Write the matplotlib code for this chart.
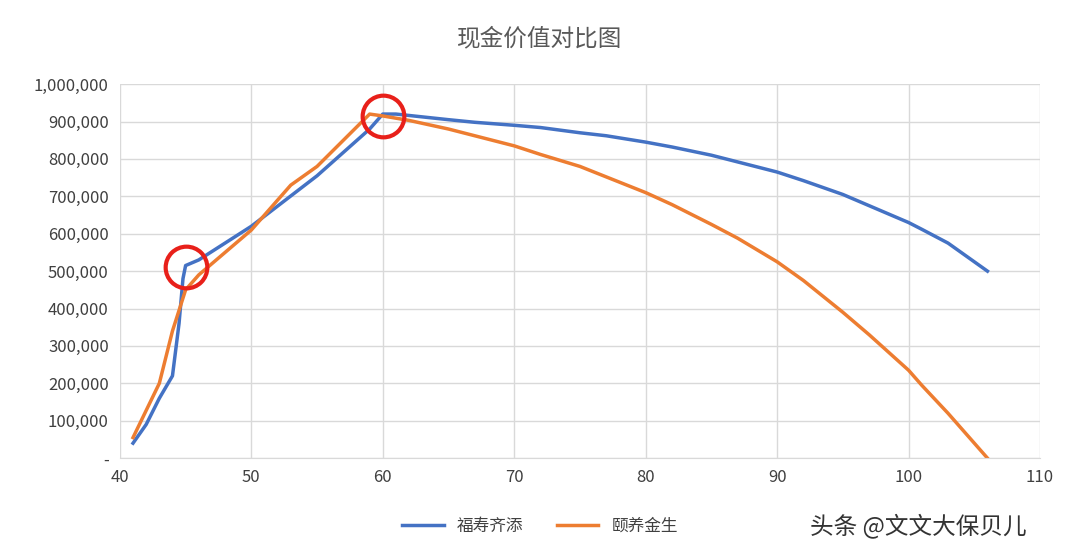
import matplotlib
matplotlib.use("Agg")
import matplotlib.pyplot as plt
from matplotlib.ticker import FuncFormatter

plt.rcParams['font.family'] = ['Noto Sans CJK SC', 'DejaVu Sans']

# 福寿齐添
age_a = [41, 42, 43, 44, 44.5, 44.8, 45, 46, 50, 55, 59, 60, 61, 65, 67, 70, 72, 75, 77, 80, 82, 85,
         87, 90, 92, 95, 97, 100, 101, 103, 104, 106]
val_a = [40000, 90000, 160000, 220000, 360000, 480000, 515000, 530000, 620000, 755000, 880000, 920000,
         920000, 905000, 898000, 890000, 884000, 870000, 862000, 845000, 832000, 810000, 792000,
         765000, 742000, 705000, 675000, 630000, 612000, 575000, 550000, 500000]
# 颐养金生
age_b = [41, 43, 44, 45, 46, 50, 53, 55, 59, 60, 62, 65, 67, 70, 72, 75, 77, 80, 82, 85, 87, 90,
         92, 95, 97, 100, 101, 103, 104, 106]
val_b = [55000, 200000, 340000, 450000, 490000, 610000, 730000, 780000, 920000, 915000, 903000,
         880000, 862000, 835000, 812000, 780000, 752000, 710000, 678000, 625000, 588000, 525000,
         475000, 390000, 330000, 235000, 195000, 120000, 80000, 0]
circles = [(45, 510000), (60, 915000)]

fig = plt.figure(figsize=(10.8, 5.5), dpi=100)
ax = fig.add_axes([0.111, 0.167, 0.852, 0.68])
ax.plot(age_a, val_a, color='#4472C4', lw=2.5, label='福寿齐添')
ax.plot(age_b, val_b, color='#ED7D31', lw=2.5, label='颐养金生')
for cx, cy in circles:
    ax.plot(cx, cy, 'o', ms=30, mfc='none', mec='#E8201A', mew=3)

ax.set_xlim(40, 110)
ax.set_ylim(0, 1000000)
ax.set_xticks(range(40, 111, 10))
ax.set_yticks(range(0, 1000001, 100000))
ax.yaxis.set_major_formatter(FuncFormatter(lambda v, p: '-' if v == 0 else f'{int(v):,}'))
ax.grid(color='#D9D9D9', lw=1)
ax.set_axisbelow(True)
for s in ax.spines.values():
    s.set_visible(False)
ax.spines['bottom'].set_visible(True)
ax.spines['bottom'].set_color('#D9D9D9')
ax.tick_params(length=0, labelsize=12, colors='#404040', pad=8)

fig.suptitle('现金价值对比图', y=0.95, fontsize=17, color='#595959')
fig.legend(loc='lower center', ncol=2, frameon=False, bbox_to_anchor=(0.5, 0.0),
           fontsize=12, labelcolor='#404040', handlelength=2.5)
fig.text(0.75, 0.03, '头条 @文文大保贝儿', fontsize=17, color='#333333')
fig.savefig('out.png')
